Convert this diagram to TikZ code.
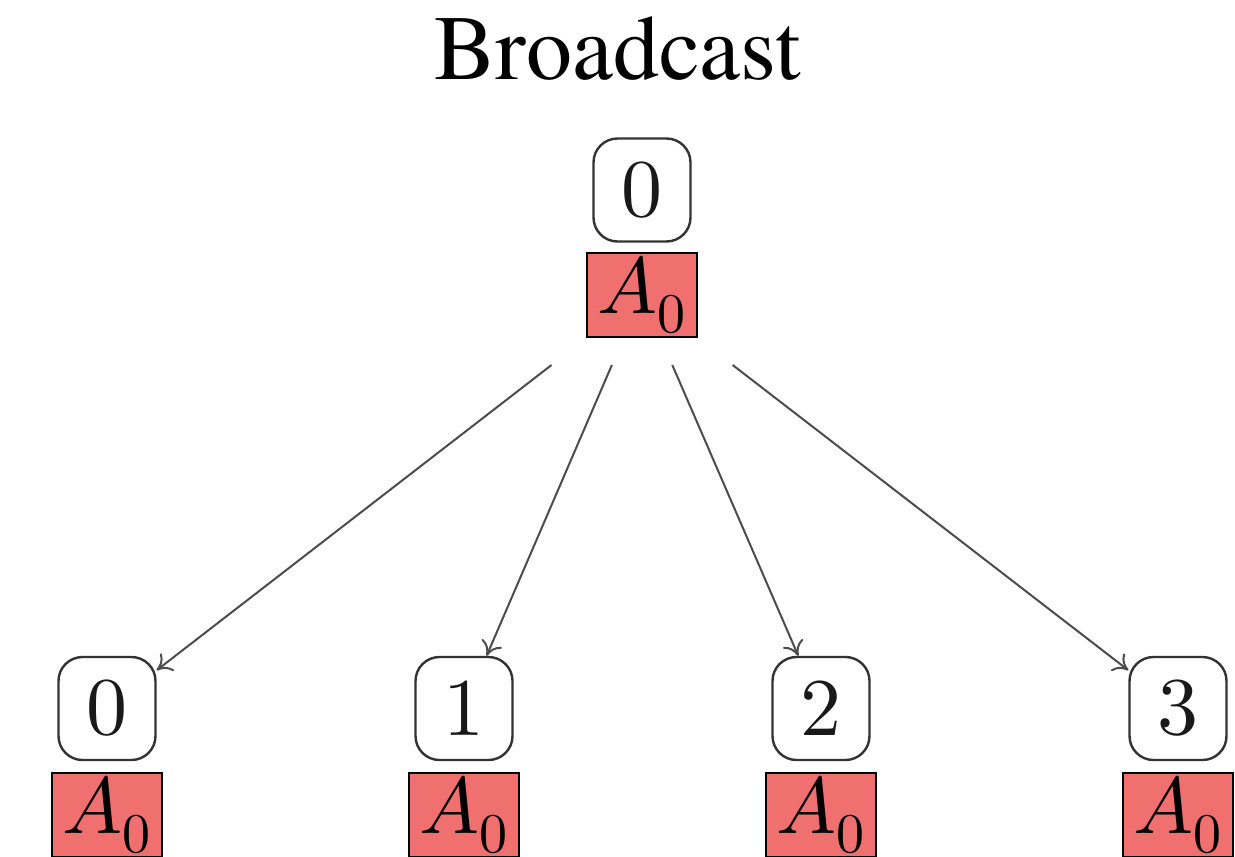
\documentclass[tikz,border=0pt]{standalone}
\usepackage{fontspec}
\usepackage{unicode-math}
\setmathfont{Latin Modern Math}
\newfontfamily\titlefont{TeX Gyre Termes}
\usetikzlibrary{arrows.meta}
\definecolor{redfill}{RGB}{240,112,112}
\begin{document}
\begin{tikzpicture}[x=0.5pt,y=-0.5pt,
 rankbox/.style={draw=black!80, line width=1.2pt, rounded corners=12pt, minimum width=48.5pt, minimum height=51.5pt, inner sep=0pt, text=black!90, font=\fontsize{41}{48}\selectfont},
 databox/.style={draw=black, line width=1.1pt, fill=redfill, minimum width=55pt, minimum height=42pt, inner sep=0pt, font=\fontsize{40}{48}\selectfont},
 link/.style={draw=black!70, line width=1pt, -{To[length=7pt,width=11pt]}}]
\useasboundingbox (0,0) rectangle (1235,856);
\clip (0,0) rectangle (1235,856);
\node[font=\titlefont\fontsize{46}{50}\selectfont, anchor=base] (title) at (617.5,80) {Broadcast};
\node[rankbox] (root) at (642,190) {$0$};
\node[databox, outer xsep=25pt, outer ysep=14pt] (rootdata) at (642,295) {$A_0$};
\foreach \i/\x in {0/107,1/464,2/821,3/1178}{
  \node[rankbox] (b\i) at (\x,708.5) {$\i$};
  \node[databox] (d\i) at (\x,815) {$A_0$};
}
\foreach \i in {0,1,2,3}{
  \draw[link] (rootdata) -- (b\i);
}
\end{tikzpicture}
\end{document}
